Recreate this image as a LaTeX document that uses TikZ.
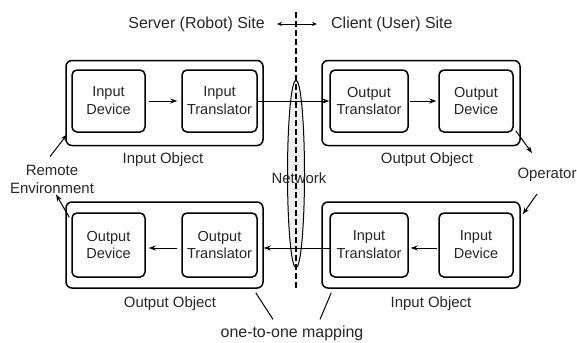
\documentclass[tikz,border=0pt]{standalone}
\usepackage{fontspec}
\setmainfont{Liberation Sans}
\usetikzlibrary{arrows.meta,shapes.geometric}
\begin{document}
\begin{tikzpicture}[x=1bp,y=-1bp,
  every node/.style={font=\fontsize{15}{18}\selectfont, text=black!85, align=center, inner sep=0pt},
  big/.style={font=\fontsize{16}{19}\selectfont},
  inbox/.style={draw=black, line width=1.5bp, rounded corners=5bp, minimum height=62bp, font=\fontsize{14.6}{18}\selectfont},
  outbox/.style={draw=black, line width=1.5bp, rounded corners=6bp, minimum width=197bp, minimum height=85bp},
  arr/.style={-{Stealth[length=7bp,width=5bp]}, line width=1bp},
  thin arr/.style={{Stealth[length=5bp,width=4bp]}-{Stealth[length=5bp,width=4bp]}, line width=0.8bp},
  netshape/.style={ellipse, draw=black, fill=gray!12, line width=1bp, minimum width=17bp, minimum height=188bp},
  divider/.style={line width=2.2bp, dash pattern=on 6bp off 3bp}
]
\useasboundingbox (0,0) rectangle (577,342);

% network ellipse and site divider
\node[netshape] (net) at (296,174) {};
\coordinate (dtop) at (296,12);
\coordinate (dbot) at (296,291);
\draw[divider] (dtop) -- (dbot);

% outer object boxes
\node[outbox] (otl) at (164.5,103) {};
\node[outbox, minimum width=198bp] (otr) at (421,103) {};
\node[outbox, minimum height=86bp] (obl) at (164.5,245) {};
\node[outbox, minimum width=198bp, minimum height=86bp] (obr) at (421,245) {};

% inner boxes, top row
\node[inbox, minimum width=73bp] (tid) at (108.5,101) {Input\\Device};
\node[inbox, minimum width=75bp] (tit) at (219.5,101) {Input\\Translator};
\node[inbox, minimum width=78bp] (tot) at (369,101) {Output\\Translator};
\node[inbox, minimum width=74bp] (tod) at (476,101) {Output\\Device};

% inner boxes, bottom row
\node[inbox, minimum width=73bp, minimum height=64bp] (bod) at (108.5,245) {Output\\Device};
\node[inbox, minimum width=75bp, minimum height=64bp] (bot) at (219.5,245) {Output\\Translator};
\node[inbox, minimum width=78bp, minimum height=64bp] (bit) at (369,245) {Input\\Translator};
\node[inbox, minimum width=74bp, minimum height=64bp] (bid) at (476,245) {Input\\Device};

% header
\node[big, anchor=east] (srv) at (265,24) {Server (Robot) Site};
\node[big, anchor=west] (cli) at (331,24) {Client (User) Site};
\draw[thin arr] ([xshift=12bp]srv.east) -- ([xshift=-14bp]cli.west);

% labels
\node (lio1) at (163,160) {Input Object};
\node (loo1) at (427,160) {Output Object};
\node (loo2) at (170,304) {Output Object};
\node (lio2) at (431,304) {Input Object};
\node (netl) at (299,178) {Network};
\node (env) at (52,179) {Remote\\Environment};
\node (op) at (547,175) {Operator};
\node[big] (map) at (292,333) {one-to-one mapping};

% data flow arrows
\draw[arr] ([shift={(3,0)}]tid.east) -- ([shift={(-4,0)}]tit.west);
\draw[arr] (tit.east) -- (tot.west);
\draw[arr] ([shift={(1,0)}]tot.east) -- ([shift={(-2,0)}]tod.west);
\draw[arr] ([shift={(-1,3)}]bid.west) -- ([shift={(2,3)}]bit.east);
\draw[arr] ([shift={(1,3)}]bit.west) -- ([shift={(0,3)}]obl.east);
\draw[arr] ([shift={(-4,3)}]bot.west) -- ([shift={(3,3)}]bod.east);

% environment and operator
\draw[arr] ([shift={(-2,-8)}]env.north) -- ([shift={(2,-12)}]otl.south west);
\draw[arr] ([shift={(-2,5)}]bod.north west) -- ([shift={(4,1)}]env.south);
\draw[arr] ([shift={(2,-2)}]tod.south east) -- ([shift={(-15,-15)}]op.north);
\draw[arr] ([shift={(-10,12)}]op.south) -- ([shift={(2,13)}]obr.north east);

% one-to-one mapping
\draw[line width=1bp] ([shift={(-8,4)}]obl.south east) -- ([shift={(-19,-6)}]map.north);
\draw[line width=1bp] ([shift={(10,4)}]obr.south west) -- ([shift={(28,-6)}]map.north);
\end{tikzpicture}
\end{document}
